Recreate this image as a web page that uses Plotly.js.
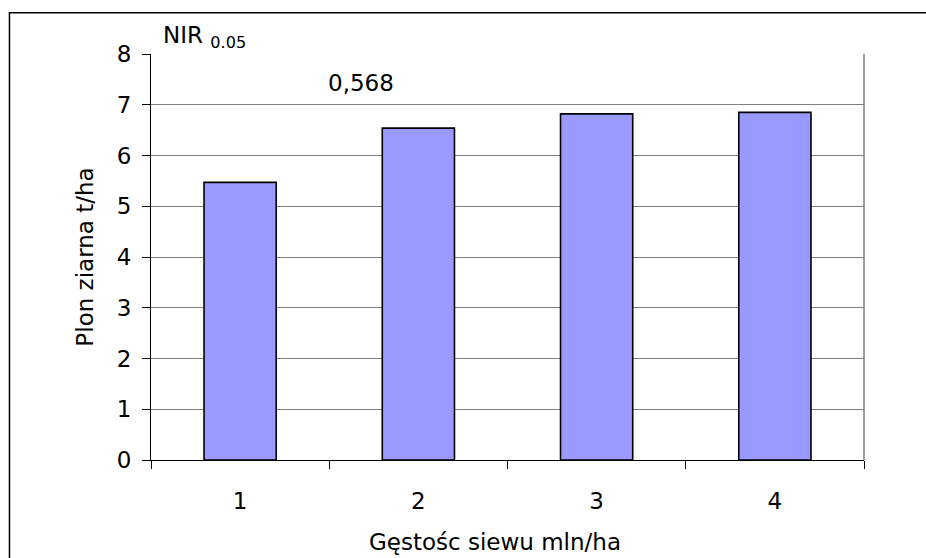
<!DOCTYPE html>
<html>
<head>
<meta charset="utf-8">
<script src="https://cdn.plot.ly/plotly-3.0.1.min.js"></script>
<style>
html,body{margin:0;padding:0;background:#fff;}
#chart{width:926px;height:558px;}
</style>
</head>
<body>
<div id="chart"></div>
<script>
var categories = ["1", "2", "3", "4"];
var yieldValues = [5.47, 6.54, 6.82, 6.85];
var yTicks = [0, 1, 2, 3, 4, 5, 6, 7, 8];
var xTitle = "Gęstośc siewu mln/ha";
var yTitle = "Plon ziarna t/ha";
var nirLabel = "NIR";
var nirSub = "0.05";
var nirValue = "0,568";

var FONT = "DejaVu Sans, Arial, sans-serif";
var FS = 23;

var trace = {
  type: "bar",
  x: categories,
  y: yieldValues,
  width: 0.405,
  marker: {color: "#9999FF", line: {color: "#000000", width: 1.6}},
  hoverinfo: "none"
};

var layout = {
  width: 926,
  height: 558,
  margin: {l: 151, r: 62, t: 54, b: 98, pad: 0},
  paper_bgcolor: "#ffffff",
  plot_bgcolor: "#ffffff",
  showlegend: false,
  font: {family: FONT, color: "#000000", size: FS},
  xaxis: {
    type: "category",
    tickson: "boundaries",
    ticks: "outside",
    ticklen: 8,
    tickwidth: 1,
    tickcolor: "#000000",
    showline: true,
    linecolor: "#000000",
    linewidth: 1,
    showgrid: false,
    zeroline: false,
    ticklabelstandoff: 20,
    tickfont: {family: FONT, size: FS, color: "#000000"}
  },
  yaxis: {
    range: [0, 8],
    tickmode: "array",
    tickvals: yTicks,
    ticktext: yTicks.map(String),
    ticks: "outside",
    ticklen: 8,
    tickwidth: 1,
    tickcolor: "#000000",
    showline: true,
    linecolor: "#000000",
    linewidth: 1,
    showgrid: true,
    gridcolor: "#808080",
    gridwidth: 1,
    zeroline: false,
    ticklabelstandoff: 6,
    tickfont: {family: FONT, size: FS, color: "#000000"},
    title: {text: yTitle, font: {family: FONT, size: FS, color: "#000000"}, standoff: 16}
  },
  shapes: [
    {type: "line", xref: "paper", yref: "paper", x0: 1, x1: 1, y0: 0, y1: 1, line: {color: "#808080", width: 1.5}},
    {type: "rect", xref: "paper", yref: "paper", x0: -0.1985, x1: 2, y0: -1, y1: 1.1015, line: {color: "#000000", width: 1.5}, fillcolor: "rgba(0,0,0,0)", layer: "below"}
  ],
  annotations: [
    {xref: "paper", yref: "paper", x: 0.4825, y: -0.2395, xanchor: "center", yanchor: "bottom", showarrow: false,
     text: xTitle, font: {family: FONT, size: FS, color: "#000000"}},
    {xref: "paper", yref: "paper", x: 0.014, y: 1.0, xanchor: "left", yanchor: "bottom", showarrow: false,
     text: nirLabel + " <sub>" + nirSub + "</sub>", font: {family: FONT, size: FS, color: "#000000"}},
    {xref: "paper", yref: "y", x: 0.295, y: 7.43, xanchor: "center", yanchor: "middle", showarrow: false,
     text: nirValue, font: {family: FONT, size: FS, color: "#000000"}}
  ]
};

Plotly.newPlot("chart", [trace], layout, {displayModeBar: false, staticPlot: true});
</script>
</body>
</html>
